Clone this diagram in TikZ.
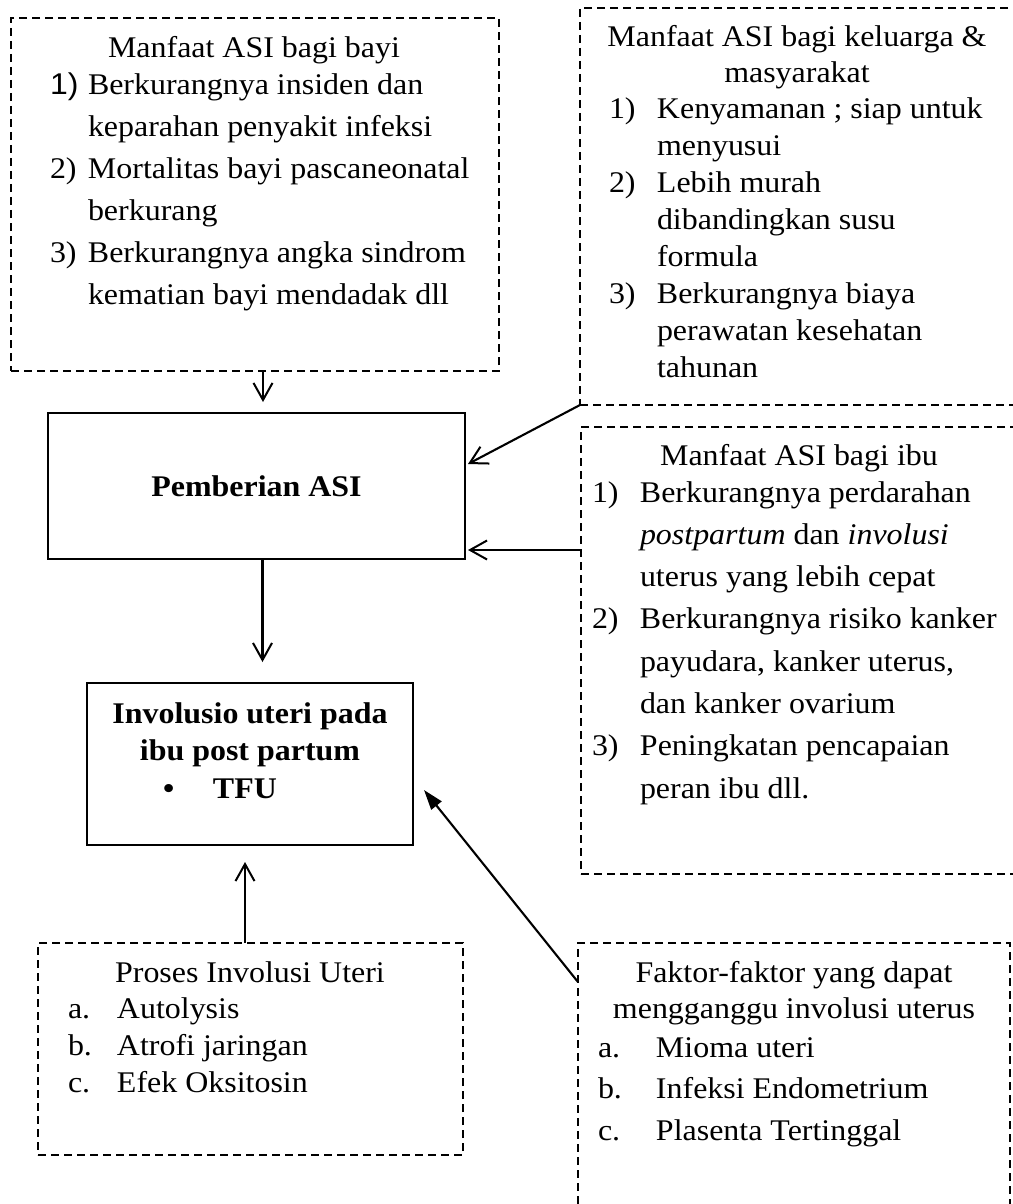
\documentclass[tikz,border=0pt]{standalone}
\usepackage{fontspec}
\setmainfont{Liberation Serif}[FakeStretch=1.065]
\setsansfont{Liberation Sans}[FakeStretch=1.065]
\usetikzlibrary{arrows.meta}
\newcommand\bodyfont[1]{\fontsize{30}{#1}\selectfont}
\newcommand\itm[2]{\makebox[#1][l]{#2}}
\begin{document}
\begin{tikzpicture}[x=1pt,y=-1pt,
  dbox/.style={draw, dash pattern=on 8pt off 5pt, line width=1.4pt, inner sep=0pt, outer sep=0pt},
  sbox/.style={draw, line width=2pt, inner sep=0pt, outer sep=0pt},
  txt/.style={inner sep=0pt, outer sep=0pt, anchor=base west},
  ttl/.style={inner sep=0pt, outer sep=0pt, anchor=base},
  arr/.style={line width=2.1pt, -{Straight Barb[length=17pt,width=19pt,line width=2pt]}},
  farr/.style={line width=2.1pt, -{Triangle[length=20pt,width=13pt]}}]
\path[fill=white, use as bounding box] (0,0) rectangle (1012,1204);

% frames
\node[dbox, minimum width=488pt, minimum height=353pt] (bayi) at (255,194.5) {};
\node[dbox, minimum width=438pt, minimum height=397pt] (kel) at (799,206.5) {};
\node[dbox, minimum width=437pt, minimum height=447pt] (ibu) at (799.5,650.5) {};
\node[sbox, minimum width=417pt, minimum height=146pt, font=\bodyfont{42}\bfseries] (pem) at (256.5,486) {Pemberian ASI};
\node[sbox, minimum width=326pt, minimum height=162pt] (inv) at (250,764) {};
\node[dbox, minimum width=425pt, minimum height=212pt] (pro) at (250.5,1049) {};
\node[dbox, minimum width=432pt, minimum height=287pt] (fak) at (794,1086.5) {};

% bayi
\node[ttl, font=\bodyfont{42}] (bayiT) at (254,58) {Manfaat ASI bagi bayi};
\node[txt, font=\bodyfont{42}] (bayiL) at (50,95) {\begin{tabular}[t]{@{}l@{}}
\itm{38pt}{\sffamily 1)}Berkurangnya insiden dan\\
\itm{38pt}{}keparahan penyakit infeksi\\
\itm{38pt}{2)}Mortalitas bayi pascaneonatal\\
\itm{38pt}{}berkurang\\
\itm{38pt}{3)}Berkurangnya angka sindrom\\
\itm{38pt}{}kematian bayi mendadak dll
\end{tabular}};

% keluarga
\node[ttl, font=\bodyfont{35.5}] (kelT) at (797,47) {\begin{tabular}[t]{@{}c@{}}
Manfaat ASI bagi keluarga \&\\ masyarakat\end{tabular}};
\node[txt, font=\bodyfont{37.1}] (kelL) at (609,118) {\begin{tabular}[t]{@{}l@{}}
\itm{48pt}{1)}Kenyamanan ; siap untuk\\
\itm{48pt}{}menyusui\\
\itm{48pt}{2)}Lebih murah\\
\itm{48pt}{}dibandingkan susu\\
\itm{48pt}{}formula\\
\itm{48pt}{3)}Berkurangnya biaya\\
\itm{48pt}{}perawatan kesehatan\\
\itm{48pt}{}tahunan
\end{tabular}};

% ibu
\node[ttl, font=\bodyfont{42}] (ibuT) at (799,465) {Manfaat ASI bagi ibu};
\node[txt, font=\bodyfont{42.3}] (ibuL) at (592,502) {\begin{tabular}[t]{@{}l@{}}
\itm{48pt}{1)}Berkurangnya perdarahan\\
\itm{48pt}{}\textit{postpartum} dan \textit{involusi}\\
\itm{48pt}{}uterus yang lebih cepat\\
\itm{48pt}{2)}Berkurangnya risiko kanker\\
\itm{48pt}{}payudara, kanker uterus,\\
\itm{48pt}{}dan kanker ovarium\\
\itm{48pt}{3)}Peningkatan pencapaian\\
\itm{48pt}{}peran ibu dll.
\end{tabular}};

% involusio
\node[ttl, font=\bodyfont{37.5}\bfseries] (invT) at (250,723) {\begin{tabular}[t]{@{}c@{}}
Involusio uteri pada\\ ibu post partum\end{tabular}};
\node[txt, font=\bodyfont{37.5}\bfseries] (invB) at (163,798) {\itm{50pt}{•}TFU};

% proses
\node[ttl, font=\bodyfont{37}] (proT) at (250,982) {Proses Involusi Uteri};
\node[txt, font=\bodyfont{37}] (proL) at (68,1018) {\begin{tabular}[t]{@{}l@{}}
\itm{49pt}{a.}Autolysis\\
\itm{49pt}{b.}Atrofi jaringan\\
\itm{49pt}{c.}Efek Oksitosin
\end{tabular}};

% faktor
\node[ttl, font=\bodyfont{36}] (fakT) at (794,982) {\begin{tabular}[t]{@{}c@{}}
Faktor-faktor yang dapat\\ mengganggu involusi uterus\end{tabular}};
\node[txt, font=\bodyfont{41.5}] (fakL) at (598,1057) {\begin{tabular}[t]{@{}l@{}}
\itm{58pt}{a.}Mioma uteri\\
\itm{58pt}{b.}Infeksi Endometrium\\
\itm{58pt}{c.}Plasenta Tertinggal
\end{tabular}};

% connectors
\draw[arr] ([xshift=8pt]bayi.south) -- ([xshift=6.5pt,yshift=11pt]pem.north);
\draw[arr] ([xshift=6pt]pem.south) -- ([xshift=12.5pt,yshift=21pt]inv.north);
\draw[arr] (kel.south west) -- ([xshift=3pt,yshift=22pt]pem.east);
\draw[arr] ([yshift=100.5pt]ibu.west) -- ([xshift=3pt,yshift=-64pt]pem.east);
\draw[arr] ([xshift=-5.5pt]pro.north) -- ([xshift=-5pt,yshift=-17pt]inv.south);
\draw[farr] ([yshift=104.5pt]fak.west) -- ([xshift=11pt,yshift=-26pt]inv.east);
\end{tikzpicture}
\end{document}
